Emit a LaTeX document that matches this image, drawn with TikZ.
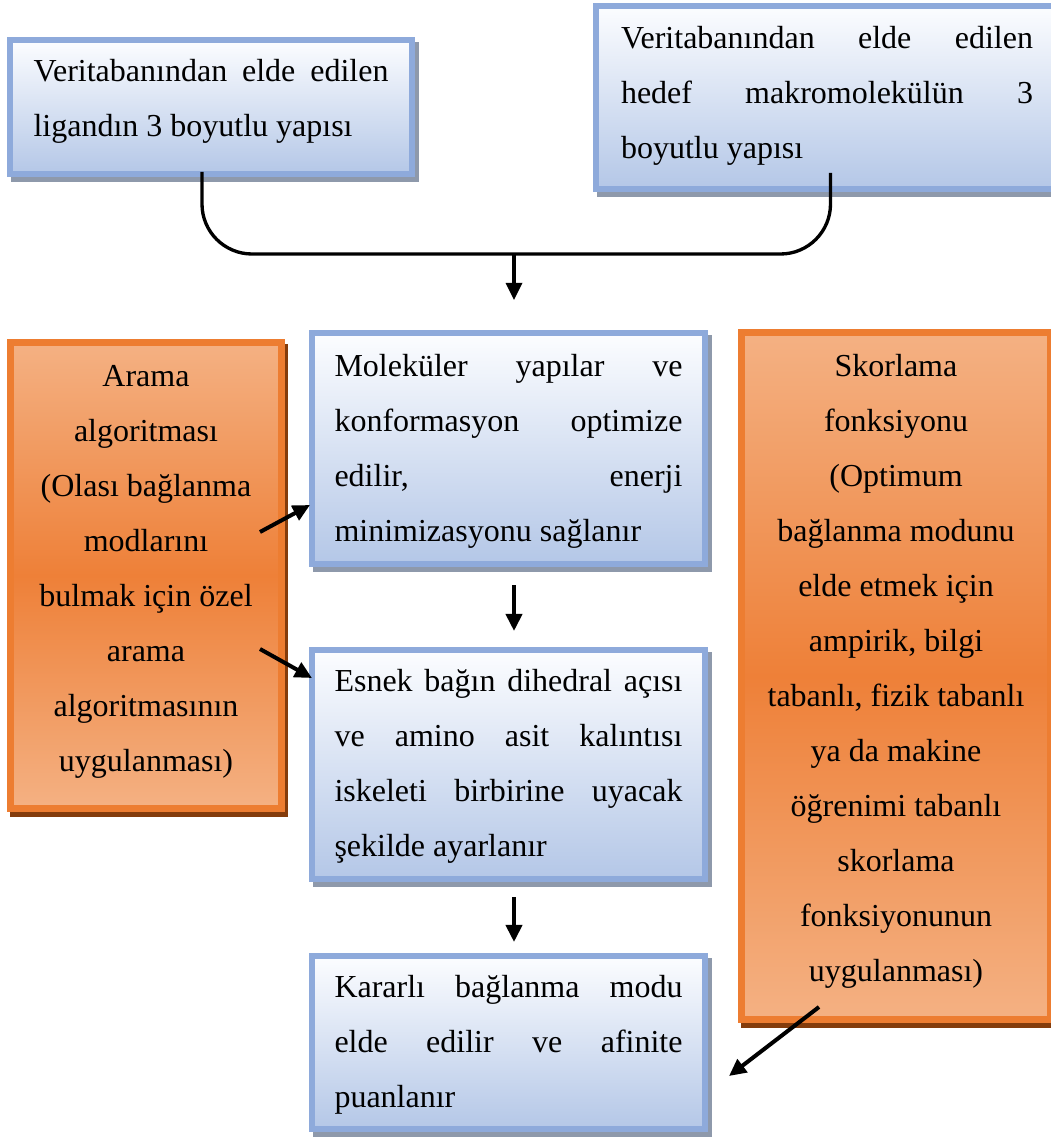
\documentclass[tikz,border=0pt]{standalone}
\usepackage{fontspec}
\setmainfont{Liberation Serif}
\usetikzlibrary{arrows.meta,calc}
\newdimen\px \px=0.375pt
\definecolor{bborder}{HTML}{8EAADB}
\definecolor{bbottom}{HTML}{B4C7E7}
\definecolor{btop}{HTML}{FCFDFF}
\definecolor{bshadow}{HTML}{8E99AB}
\definecolor{oborder}{HTML}{ED7D31}
\definecolor{olight}{HTML}{F4B183}
\definecolor{omid}{HTML}{EE8038}
\definecolor{oshadow}{HTML}{843C0C}
\newcommand\inbox[4]{\parbox[c][#1\px][t]{#2\px}{\vspace*{#3\px}#4}}
\newcommand\jl[1]{\strut\makebox[\linewidth][s]{#1}\par}
\newcommand\lastl[1]{\strut #1\par}
\begin{document}
\begin{tikzpicture}[x=0.375pt,y=-0.375pt,
  font=\fontsize{12pt}{20.6pt}\selectfont,
  base/.style={rectangle, inner ysep=0pt, outer sep=0pt, text=black},
  bluebox/.style={base, draw=bborder, line width=2.25pt, top color=btop, bottom color=bbottom,
     preaction={draw=bshadow, fill=bshadow, transform canvas={shift={(4,5)}}}},
  orangebox/.style={base, draw=oborder, line width=2.625pt, top color=olight, bottom color=olight, middle color=omid,
     preaction={draw=oshadow, fill=oshadow, transform canvas={shift={(3,5)}}}},
  conn/.style={line width=1.25pt, draw=black},
  arr/.style={line width=1.5pt, draw=black, -{Triangle[length=6.4pt,width=6pt]}},
  arrthin/.style={line width=1.25pt, draw=black, -{Triangle[length=6.4pt,width=6pt]}}]
\useasboundingbox (0,0) rectangle (1051,1137);
\clip (0,0) rectangle (1051,1137);

\node[bluebox, inner xsep=8.8125pt] (A) at (211,107)
  {\inbox{134}{355}{3.5}{\jl{Veritabanından elde edilen}\lastl{ligandın 3 boyutlu yapısı}}};
\node[bluebox, inner xsep=9.375pt] (B) at (827,97.5)
  {\inbox{183}{412}{4.5}{\jl{Veritabanından elde edilen}\jl{hedef makromolekülün 3}\lastl{boyutlu yapısı}}};
\node[bluebox, inner xsep=8.4375pt] (M1) at (508.5,448.5)
  {\inbox{231}{348}{5.5}{\jl{Moleküler yapılar ve}\jl{konformasyon optimize}\jl{edilir, enerji}\lastl{minimizasyonu sağlanır}}};
\node[bluebox, inner xsep=8.4375pt] (M2) at (508.5,764.5)
  {\inbox{229}{348}{3.5}{\jl{Esnek bağın dihedral açısı}\jl{ve amino asit kalıntısı}\jl{iskeleti birbirine uyacak}\lastl{şekilde ayarlanır}}};
\node[bluebox, inner xsep=8.4375pt] (M3) at (508.5,1042.5)
  {\inbox{173}{348}{3.5}{\jl{Kararlı bağlanma modu}\jl{elde edilir ve afinite}\lastl{puanlanır}}};
\node[orangebox, inner xsep=5.625pt] (L) at (146,575.5)
  {\inbox{466}{241}{6}{\centering\strut Arama\\\strut algoritması\\\strut (Olası bağlanma\\\strut modlarını\\\strut bulmak için özel\\\strut arama\\\strut algoritmasının\\\strut uygulanması)\par}};
\node[orangebox, inner xsep=5.625pt] (R) at (896,676)
  {\inbox{687}{279}{6}{\centering\strut Skorlama\\\strut fonksiyonu\\\strut (Optimum\\\strut bağlanma modunu\\\strut elde etmek için\\\strut ampirik, bilgi\\\strut tabanlı, fizik tabanlı\\\strut ya da makine\\\strut öğrenimi tabanlı\\\strut skorlama\\\strut fonksiyonunun\\\strut uygulanması)\par}};

\coordinate (J) at (514,254);
\coordinate (T1) at (514,300);
\draw[conn, rounded corners=18.75pt] ($(A.south)+(-9,-2)$) |- (J) -| ($(B.south)+(3.5,-16)$);
\draw[arrthin] (J) -- (T1);
\draw[arr] ($(M1.south)+(5.5,21)$) -- ($(M2.north)+(5.5,-19)$);
\draw[arr] ($(M2.south)+(5.5,18)$) -- ($(M3.north)+(5.5,-14)$);
\draw[arr] ($(L.east)+(-21.5,-43.5)$) -- ($(M1.west)+(-2,56.5)$);
\draw[arr] ($(L.east)+(-21.5,73.5)$) -- ($(M2.west)+(0,-86.5)$);
\draw[arr] ($(R.south)+(-77,-12.5)$) -- ($(M3.east)+(24,33.5)$);
\end{tikzpicture}
\end{document}
